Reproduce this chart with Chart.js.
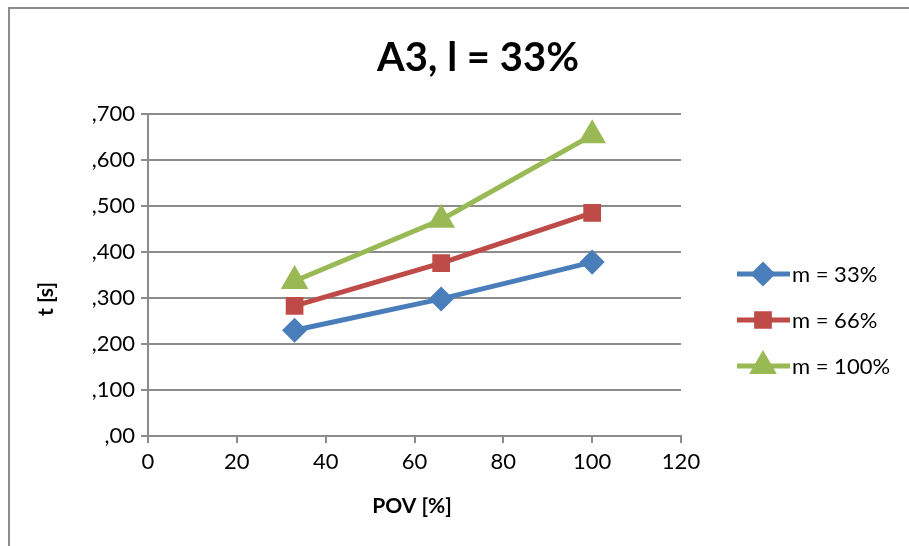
<!DOCTYPE html>
<html>
<head>
<meta charset="utf-8">
<style>
  html, body { margin: 0; padding: 0; background: #fff; }
  #wrap { width: 909px; height: 546px; }
</style>
<script src="https://cdn.jsdelivr.net/npm/chart.js@4/dist/chart.umd.min.js"></script>
</head>
<body>
<div id="wrap"><canvas id="grafico" width="909" height="546"></canvas></div>
<script>
const titulo = 'A3, l = 33%';
const povX = [33, 66, 100];
const series = ['m = 33%', 'm = 66%', 'm = 100%'];
const m33 = [0.230, 0.298, 0.378];
const m66 = [0.283, 0.376, 0.485];
const m100 = [0.337, 0.470, 0.654];
const cores = ['#4A7EBB', '#BE4B48', '#98B954'];
const marcadores = ['rectRot', 'rect', 'triangle'];

const FONTE = 'Lato, "Open Sans", sans-serif';

const pontos = ys => ys.map((y, i) => ({ x: povX[i], y }));

// frame, title, axis titles and a line+marker legend
const extras = {
    id: 'extras',
    beforeDraw(chart) {
        const c = chart.ctx;
        c.save();
        c.strokeStyle = '#8c8c8c';
        c.lineWidth = 2;
        c.beginPath();
        c.moveTo(9, 546);
        c.lineTo(9, 8);
        c.lineTo(909, 8);
        c.stroke();
        c.restore();
    },
    afterDraw(chart) {
        const c = chart.ctx;
        c.save();
        c.fillStyle = '#000';
        c.textAlign = 'center';
        c.textBaseline = 'middle';
        c.font = 'bold 40px ' + FONTE;
        c.fillText(titulo, 478, 58);

        c.font = 'bold 21px ' + FONTE;
        c.fillText('POV [%]', 412, 506);
        c.save();
        c.translate(46, 299);
        c.rotate(-Math.PI / 2);
        c.fillText('t [s]', 0, 0);
        c.restore();

        const yy = [274, 320, 366];
        chart.data.datasets.forEach((ds, i) => {
            const y = yy[i];
            c.strokeStyle = ds.borderColor;
            c.lineWidth = 5;
            c.beginPath();
            c.moveTo(737, y);
            c.lineTo(790, y);
            c.stroke();
            Chart.helpers.drawPoint(c, {
                pointStyle: ds.pointStyle,
                radius: ds.pointRadius,
                rotation: 0,
                borderWidth: 1
            }, 763, y);
            c.fillStyle = ds.borderColor;
            c.fill();
            c.fillStyle = '#000';
            c.textAlign = 'left';
            c.font = '22px ' + FONTE;
            c.fillText(ds.label, 792, y + 1);
        });
        c.restore();
    }
};

const ctx = document.getElementById('grafico').getContext('2d');
new Chart(ctx, {
    type: 'line',
    data: {
        datasets: [m33, m66, m100].map((vals, i) => ({
            label: series[i],
            data: pontos(vals),
            borderColor: cores[i],
            backgroundColor: cores[i],
            pointBackgroundColor: cores[i],
            pointBorderColor: cores[i],
            pointStyle: marcadores[i],
            pointRadius: i === 2 ? 11 : 9,
            borderWidth: 5,
            tension: 0
        }))
    },
    options: {
        responsive: false,
        animation: false,
        layout: { padding: { left: 0, top: 114, right: 228, bottom: 0 } },
        plugins: {
            legend: { display: false },
            title: { display: false },
            tooltip: { enabled: false }
        },
        scales: {
            x: {
                type: 'linear',
                min: 0,
                max: 120,
                ticks: { stepSize: 20, color: '#000', font: { family: FONTE, size: 22 }, padding: 6 },
                grid: { drawOnChartArea: false, color: '#8c8c8c', lineWidth: 2, tickLength: 7 },
                border: { color: '#8c8c8c', width: 2 },
                afterFit(scale) { scale.height = 546 - 436; }
            },
            y: {
                min: 0,
                max: 0.7,
                ticks: {
                    stepSize: 0.1,
                    color: '#000',
                    font: { family: FONTE, size: 22 },
                    padding: 6,
                    callback: v => v === 0 ? ',00' : ',' + Math.round(v * 1000)
                },
                grid: { color: '#8c8c8c', lineWidth: 2, tickLength: 7 },
                border: { color: '#8c8c8c', width: 2 },
                afterFit(scale) { scale.width = 148; }
            }
        }
    },
    plugins: [extras]
});
</script>
</body>
</html>
